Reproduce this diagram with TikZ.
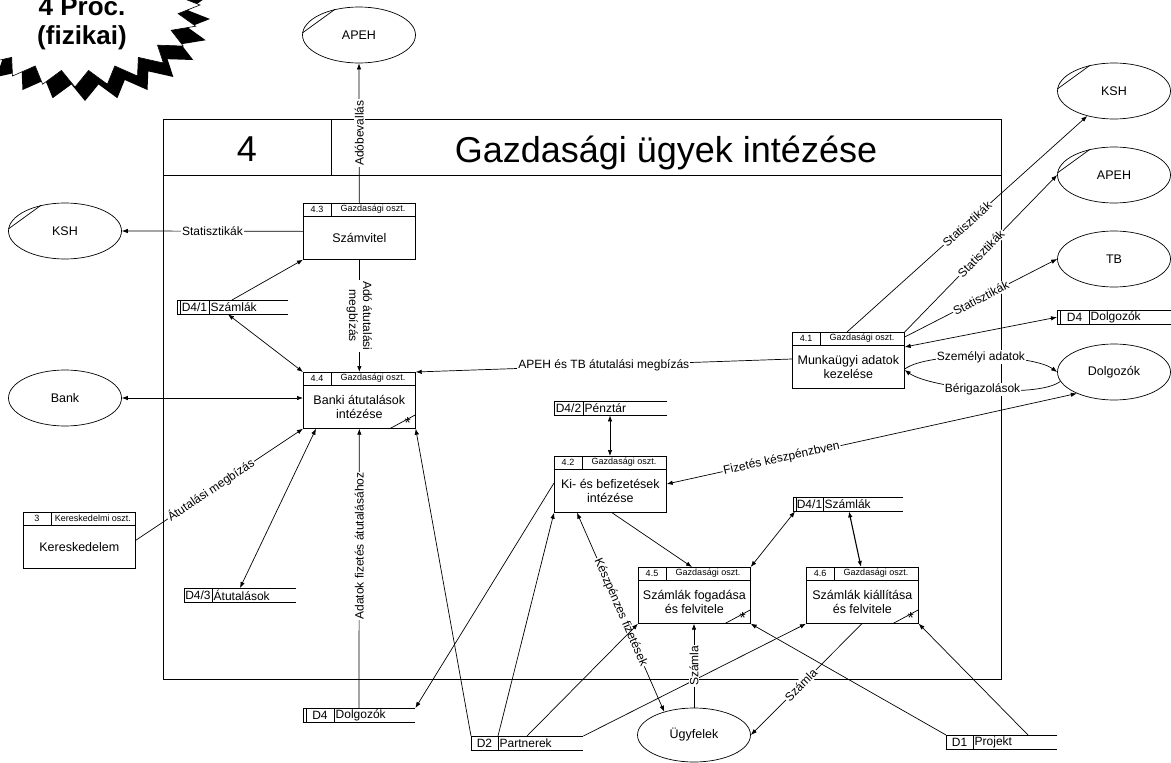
\documentclass[tikz,border=0pt]{standalone}
\usepackage{fontspec}
\setmainfont{Liberation Sans}
\usetikzlibrary{arrows.meta,shapes.geometric}

\tikzset{
  tip/.tip={Latex[length=6pt,width=4.5pt]},
  plain/.style={line width=0.7pt},
  flow/.style={plain,-tip},
  bflow/.style={plain,tip-tip},
  lbl/.style={fill=white,inner sep=1pt,font=\fontsize{12}{14}\selectfont},
  ent/.style={ellipse,draw,line width=0.7pt,minimum width=113pt,minimum height=56pt,
    inner sep=0pt,font=\fontsize{12.5}{15}\selectfont},
  hdr/.style={inner sep=0pt,font=\fontsize{9}{10}\selectfont},
  storetxt/.style={inner sep=0pt,font=\fontsize{12}{14}\selectfont},
}

% process box: name, x, y (top left), id, department, text, star flag
\newcommand\procbox[7]{%
  \node[draw,line width=0.7pt,minimum width=112pt,minimum height=56pt,anchor=north west,inner sep=0pt] (#1) at (#2,#3) {};
  \draw[plain] ([yshift=-13pt]#1.north west) -- ([yshift=-13pt]#1.north east);
  \draw[plain] ([xshift=28pt]#1.north west) -- ([xshift=28pt,yshift=-13pt]#1.north west);
  \node[hdr] (#1-id) at ([xshift=14pt,yshift=-6.5pt]#1.north west) {#4};
  \node[hdr] (#1-dept) at ([xshift=70pt,yshift=-6.5pt]#1.north west) {#5};
  \node[align=center,inner sep=0pt,font=\fontsize{12.5}{14.5}\selectfont] (#1-txt) at ([yshift=-6.5pt]#1.center) {#6};
  \ifnum#7=1
    \draw[plain] ([xshift=-26pt]#1.south east) -- ([yshift=14pt]#1.south east);
    \node[inner sep=0pt,anchor=north,font=\fontsize{16}{16}\selectfont] (#1-star) at ([xshift=-8pt,yshift=11.5pt]#1.south east) {*};
  \fi
}

% data store: name, x, y (top left), width, divider offset, id, label, double left edge flag
\newcommand\dstore[8]{%
  \node[minimum width=#4pt,minimum height=14pt,anchor=north west,inner sep=0pt] (#1) at (#2,#3) {};
  \draw[plain] (#1.north east) -- (#1.north west) -- (#1.south west) -- (#1.south east);
  \draw[plain] ([xshift=#5pt]#1.north west) -- ([xshift=#5pt]#1.south west);
  \ifnum#8=1 \draw[plain] ([xshift=3pt]#1.north west) -- ([xshift=3pt]#1.south west);\fi
  \node[storetxt] (#1-id) at ([xshift={((#5)+3*(#8))*0.5pt}]#1.west) {#6};
  \node[storetxt,anchor=west] (#1-lbl) at ([xshift={(#5)*1pt+1.5pt}]#1.west) {#7};
}

\begin{document}
\begin{tikzpicture}[x=1pt,y=-1pt]
\useasboundingbox (0,0) rectangle (1171,763);

% explosion badge with its shadow
\fill[black,shift={(10,14)}] plot[samples at={0,1,...,47},variable=\k]
  ({75+(mod(\k,2)==0?125:104)*cos(\k*7.5)},{5+(mod(\k,2)==0?82:66)*sin(\k*7.5)}) -- cycle;
\filldraw[fill=white,draw=black,line width=0.6pt] plot[samples at={0,1,...,47},variable=\k]
  ({75+(mod(\k,2)==0?125:104)*cos(\k*7.5)},{5+(mod(\k,2)==0?82:66)*sin(\k*7.5)}) -- cycle;
\node[align=center,inner sep=0pt,font=\bfseries\fontsize{26}{29}\selectfont] (badge) at (82,24) {4 Proc.\\(fizikai)};

% process frame
\draw[plain] (163,119) rectangle (1001,679);
\draw[plain] (163,175) -- (1001,175);
\draw[plain] (331,119) -- (331,175);
\node[inner sep=0pt,font=\fontsize{36}{40}\selectfont] (framenum) at (247,149) {4};
\node[inner sep=0pt,font=\fontsize{36}{40}\selectfont] (frametitle) at (666,153) {Gazdasági ügyek intézése};

% external entities
\node[ent] (apehT) at (359,35) {APEH};
\node[ent] (kshL) at (65,231) {KSH};
\node[ent] (bank) at (65,398) {Bank};
\node[ent] (kshR) at (1114,91) {KSH};
\node[ent] (apehR) at (1114,175) {APEH};
\node[ent] (tb) at (1114,259) {TB};
\node[ent] (dolg) at (1114,372) {Dolgozók};
\node[ent,minimum height=54pt] (ugyf) at (694,735) {Ügyfelek};
\foreach \e in {apehT,kshL,kshR,apehR}
  \draw[plain] (\e.178) -- (\e.133);

% processes
\procbox{p43}{303}{203}{4.3}{Gazdasági oszt.}{Számvitel}{0}
\procbox{p44}{303}{372}{4.4}{Gazdasági oszt.}{Banki átutalások\\intézése}{1}
\procbox{p42}{554}{456}{4.2}{Gazdasági oszt.}{Ki- és befizetések\\intézése}{0}
\procbox{p45}{638}{567}{4.5}{Gazdasági oszt.}{Számlák fogadása\\és felvitele}{1}
\procbox{p46}{806}{567}{4.6}{Gazdasági oszt.}{Számlák kiállítása\\és felvitele}{1}
\procbox{p41}{792}{332}{4.1}{Gazdasági oszt.}{Munkaügyi adatok\\kezelése}{0}
\procbox{p3}{23}{512}{3}{Kereskedelmi oszt.}{Kereskedelem}{0}

% data stores
\dstore{d41a}{177}{300}{111}{32}{D4/1}{Számlák}{1}
\dstore{d42}{554}{401}{113}{29}{D4/2}{Pénztár}{0}
\dstore{d43}{184}{588}{112}{28}{D4/3}{Átutalások}{0}
\dstore{d4b}{303}{708}{112}{31}{D4}{Dolgozók}{1}
\dstore{d2}{471}{736}{112}{27}{D2}{Partnerek}{0}
\dstore{d41b}{793}{497}{110}{30}{D4/1}{Számlák}{1}
\dstore{d1}{946}{735}{111}{27}{D1}{Projekt}{0}
\dstore{d4r}{1057}{310}{114}{32}{D4}{Dolgozók}{1}

% data flows around 4.3 and 4.4
\draw[flow] (p43.north) -- node[lbl,rotate=90] {Adóbevallás} (apehT.south);
\draw[flow] (p43.west) -- node[lbl] {Statisztikák} (kshL.east);
\draw[flow] ([xshift=55pt]d41a.north west) -- (p43.south west);
\draw[bflow] ([xshift=51pt]d41a.south west) -- (p44.north west);
\draw[flow] (p43.south) -- node[lbl,rotate=-90,align=center,font=\fontsize{12}{14}\selectfont] {Adó átutalási\\megbízás} (p44.north);
\draw[flow] ([yshift=-27pt]p41.north west) -- node[lbl] {APEH és TB átutalási megbízás} (p44.north east);
\draw[bflow] (bank.east) -- ([yshift=-26pt]p44.north west);
\draw[flow] (p3.east) -- node[lbl,sloped,pos=0.45] {Átutalási megbízás} (p44.south west);
\draw[bflow] ([xshift=13pt]p44.south west) -- ([xshift=56pt]d43.north west);
\draw[flow] ([xshift=56pt]d4b.north west) -- node[lbl,rotate=90,pos=0.58] {Adatok fizetés átutalásához} (p44.south);
\draw[flow] (d2.north west) -- (p44.south east);

% data flows around 4.2
\draw[flow] ([yshift=-27pt]p42.north west) -- (d4b.north east);
\draw[bflow] ([xshift=56pt]d42.south west) -- ([xshift=56pt]p42.north west);
\draw[bflow] ([yshift=-28pt]p42.north east) -- node[lbl,sloped,pos=0.28] {Fizetés készpénzbven} (dolg.210);
\draw[flow] ([xshift=27pt]d2.north west) -- (p42.south west);
\draw[bflow] ([xshift=23pt]p42.south west) -- node[lbl,sloped] {Készpénzes fizetések} (ugyf.142);
\draw[flow] ([xshift=58pt]p42.south west) -- ([xshift=54pt]p45.north west);

% data flows around 4.5 and 4.6
\draw[bflow] (p45.north east) -- ([xshift=2pt]d41b.south west);
\draw[bflow,line width=1.1pt] ([xshift=56pt]d41b.south west) -- ([xshift=55pt]p46.north west);
\draw[flow] ([xshift=56pt]d2.north west) -- (p45.south west);
\draw[flow] (d2.north east) -- (p46.south west);
\draw[flow] (ugyf.north) -- node[lbl,rotate=90] {Számla} ([xshift=56pt]p45.south west);
\draw[flow] (d1.north west) -- (p45.south east);
\draw[flow] ([xshift=56pt]p46.south west) -- node[lbl,sloped,pos=0.55] {Számla} (ugyf.east);
\draw[flow] ([xshift=82pt]d1.north west) -- (p46.south east);

% data flows around 4.1
\draw[flow] ([xshift=55pt]p41.north west) -- node[lbl,sloped] {Statisztikák} (kshR.223);
\draw[flow] (p41.north east) -- node[lbl,sloped] {Statisztikák} (apehR.west);
\draw[flow] ([yshift=-5pt]p41.north east) -- node[lbl,sloped] {Statisztikák} (tb.west);
\draw[bflow] ([yshift=-15pt]p41.north east) -- (d4r.west);
\draw[flow] ([yshift=-37pt]p41.north east) .. controls +(25,-18) and +(-25,-18) .. node[lbl] {Személyi adatok} (dolg.west);
\draw[flow] (dolg.190) .. controls +(-25,18) and +(25,18) .. node[lbl] {Bérigazolások} ([yshift=-38pt]p41.north east);

\end{tikzpicture}
\end{document}
